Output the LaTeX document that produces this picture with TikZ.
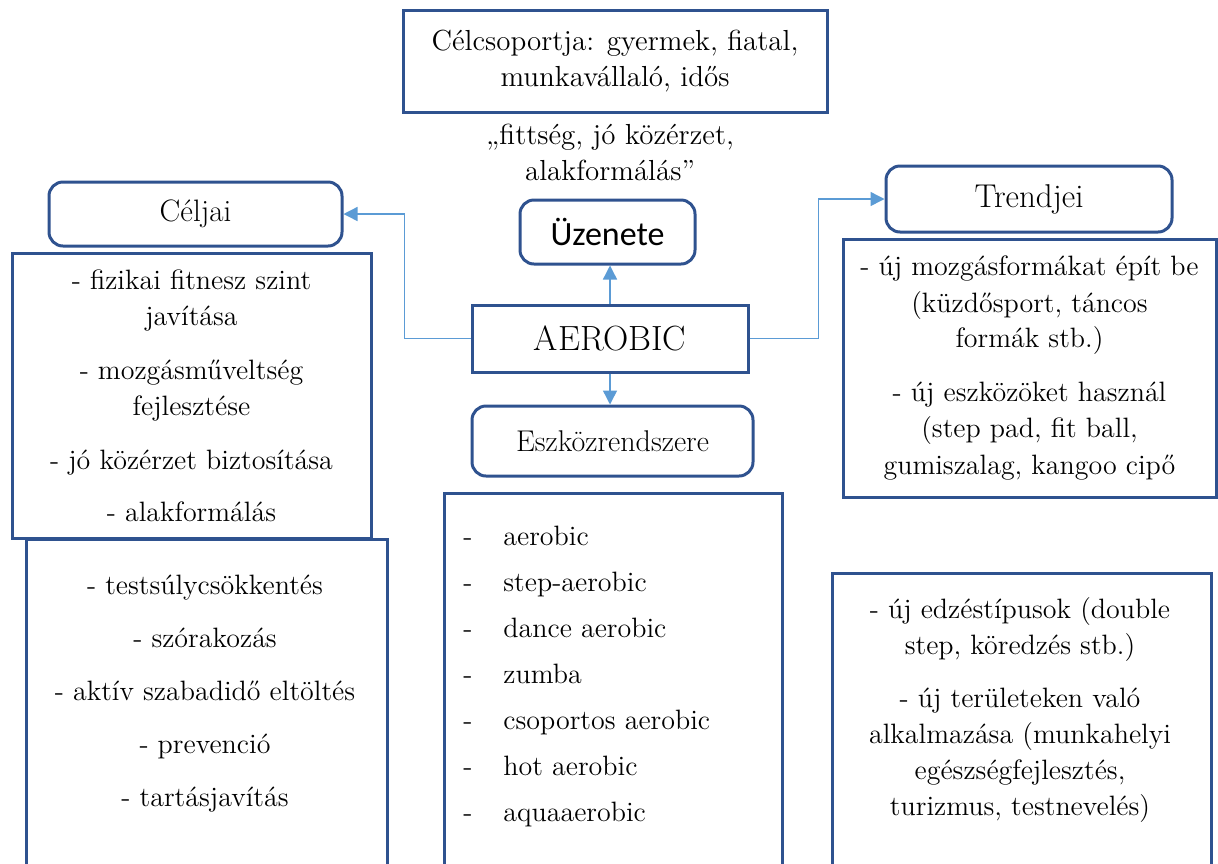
\documentclass[tikz,border=0pt]{standalone}
\usepackage{fontspec}
\newfontfamily\messagefont{Carlito}[Scale=1.7]
\usetikzlibrary{arrows.meta}
\definecolor{boxblue}{RGB}{47,82,143}
\definecolor{linkblue}{RGB}{91,155,213}
\newcommand{\dsh}{\makebox[20pt][l]{-}}

\begin{document}
\begin{tikzpicture}[x=0.5pt, y=-0.5pt,
  every node/.style={font=\fontsize{14}{18}\selectfont},
  frame/.style={draw=boxblue, line width=1.5pt, inner sep=0pt, align=center},
  head/.style={frame, rounded corners=7pt},
  link/.style={draw=linkblue, line width=0.7pt, -{Triangle[length=7pt,width=7pt]}}]
  \clip (0,0) rectangle (1218,863);

  \node[frame, minimum width=212pt, minimum height=51pt, font=\fontsize{14.5}{18}\selectfont] (target) at (615,61)
    {Célcsoportja: gyermek, fiatal,\\munkavállaló, idős};
  \node[align=center, font=\fontsize{14.5}{18}\selectfont] (slogan) at (610,152) {„fittség, jó közérzet,\\alakformálás”};
  \node[head, minimum width=87.5pt, minimum height=32pt, font=\messagefont] (message) at (607.5,232) {Üzenete};
  \node[frame, minimum width=138pt, minimum height=33.5pt, font=\fontsize{17.5}{21}\selectfont] (aerobic) at (610,338.5) {AEROBIC};
  \node[head, minimum width=140.5pt, minimum height=35pt, font=\fontsize{15}{18}\selectfont] (tools) at (612.5,441) {Eszközrendszere};
  \node[head, minimum width=146.5pt, minimum height=32pt, font=\fontsize{15.5}{19}\selectfont] (goals) at (195.5,214) {Céljai};
  \node[head, minimum width=143pt, minimum height=33pt, font=\fontsize{16.5}{20}\selectfont] (trends) at (1029,199) {Trendjei};

  \node[frame, minimum width=179.5pt, minimum height=142.5pt] (goalsA) at (191.5,395.5)
    {- fizikai fitnesz szint\\javítása\\[9pt]- mozgásműveltség\\fejlesztése\\[9pt]- jó közérzet biztosítása\\[8pt]- alakformálás};
  \node[frame, anchor=north west, minimum width=180.5pt, minimum height=181pt] (goalsBbox) at (25,538) {};
  \node[align=center, font=\fontsize{14}{26.5}\selectfont] (goalsB) at (205,694)
    {- testsúlycsökkentés\\- szórakozás\\- aktív szabadidő eltöltés\\- prevenció\\- tartásjavítás};

  \node[frame, anchor=north west, minimum width=169pt, minimum height=204pt] (toolsbox) at (443,492) {};
  \node[anchor=west, align=left, inner sep=0pt, font=\fontsize{14}{23}\selectfont] (toolslist) at (463,676)
    {\dsh aerobic\\\dsh step-aerobic\\\dsh dance aerobic\\\dsh zumba\\\dsh csoportos aerobic\\\dsh hot aerobic\\\dsh aquaaerobic};

  \node[frame, minimum width=186.5pt, minimum height=129pt] (trendsA) at (1029.5,368)
    {- új mozgásformákat épít be\\(küzdősport, táncos\\formák stb.)\\[9pt]- új eszközöket használ\\(step pad, fit ball,\\gumiszalag, kangoo cipő};
  \node[frame, anchor=north west, minimum width=189.5pt, minimum height=164pt] (trendsBbox) at (831,572) {};
  \node[align=center] (trendsB) at (1020,709.5)
    {- új edzéstípusok (double\\step, köredzés stb.)\\[8.5pt]- új területeken való\\alkalmazása (munkahelyi\\egészségfejlesztés,\\turizmus, testnevelés)};

  \draw[link] (aerobic.north) -- (aerobic.north |- message.south);
  \draw[link] (aerobic.south) -- (aerobic.south |- tools.north);
  \draw[link] (aerobic.west) -- ++(-66,0) |- (goals.east);
  \draw[link] (aerobic.east) -- ++(69,0) |- (trends.west);
\end{tikzpicture}
\end{document}
